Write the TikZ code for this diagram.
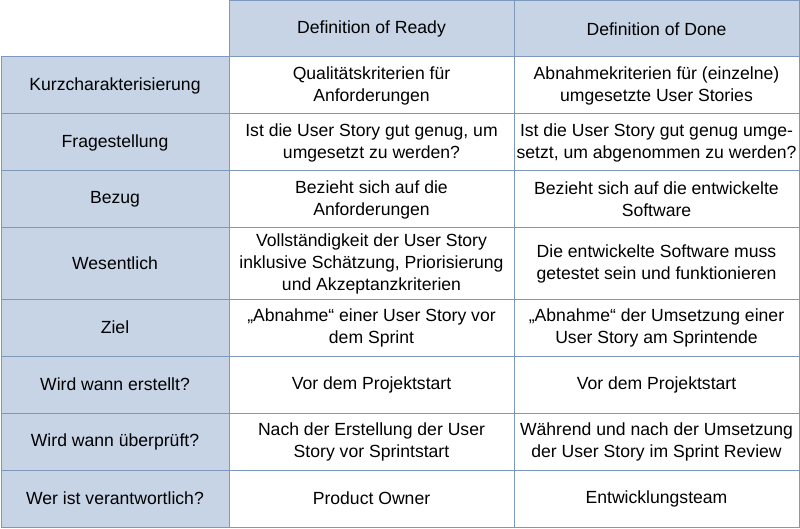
\documentclass[tikz,border=0pt]{standalone}
\usepackage{fontspec}
\setmainfont{Liberation Sans}
\definecolor{cellblue}{HTML}{C6D4E6}
\definecolor{lineblue}{HTML}{7E98BC}
\begin{document}
\begin{tikzpicture}[x=1pt,y=-1pt,
  cell/.style={draw=lineblue,line width=1pt},
  txt/.style={align=center,font=\fontsize{17.6}{22}\selectfont,inner sep=0pt}]
\useasboundingbox (0,0) rectangle (800,529);
% header
\fill[cellblue] (229,1) rectangle (799,57);
\fill[cellblue] (1,57) rectangle (229,527);
\draw[cell] (229,1) -- (799,1) -- (799,527) -- (1,527) -- (1,57) -- (229,57) -- cycle;
\draw[cell] (229,57) -- (799,57);
\draw[cell] (229,1) -- (229,527);
\draw[cell] (514,1) -- (514,527);
\foreach \y in {114,171,228,299,356,413,470} \draw[cell] (1,\y) -- (799,\y);
\node[txt] (h1) at (371.5,29) {Definition of Ready};
\node[txt] (h2) at (656.5,29) {Definition of Done};
\foreach \i/\a/\b/\txta/\txtb/\txtc in {
 1/57/114/Kurzcharakterisierung/{Qualitätskriterien für\\Anforderungen}/{Abnahmekriterien für (einzelne)\\umgesetzte User Stories},
 2/114/171/Fragestellung/{Ist die User Story gut genug, um\\umgesetzt zu werden?}/{Ist die User Story gut genug umge-\\setzt, um abgenommen zu werden?},
 3/171/228/Bezug/{Bezieht sich auf die\\Anforderungen}/{Bezieht sich auf die entwickelte\\Software},
 4/228/299/Wesentlich/{Vollständigkeit der User Story\\inklusive Schätzung, Priorisierung\\und Akzeptanzkriterien}/{Die entwickelte Software muss\\getestet sein und funktionieren},
 5/299/356/Ziel/{„Abnahme“ einer User Story vor\\dem Sprint}/{„Abnahme“ der Umsetzung einer\\User Story am Sprintende},
 6/356/413/Wird wann erstellt?/{Vor dem Projektstart}/{Vor dem Projektstart},
 7/413/470/Wird wann überprüft?/{Nach der Erstellung der User\\Story vor Sprintstart}/{Während und nach der Umsetzung\\der User Story im Sprint Review},
 8/470/527/Wer ist verantwortlich?/{Product Owner}/{Entwicklungsteam}}{
 \node[txt] (r\i a) at (115,{(\a+\b)/2}) {\txta};
 \node[txt] (r\i b) at (371.5,{(\a+\b)/2}) {\txtb};
 \node[txt] (r\i c) at (656.5,{(\a+\b)/2}) {\txtc};
}
\end{tikzpicture}
\end{document}
